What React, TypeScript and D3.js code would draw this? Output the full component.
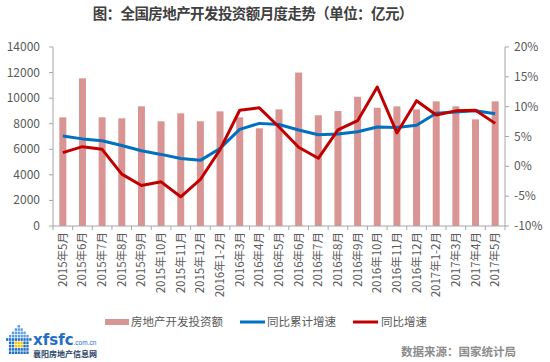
import React from "react";
import * as d3 from "d3";

const categories = [
  "2015年5月", "2015年6月", "2015年7月", "2015年8月", "2015年9月", "2015年10月",
  "2015年11月", "2015年12月", "2016年1-2月", "2016年3月", "2016年4月", "2016年5月",
  "2016年6月", "2016年7月", "2016年8月", "2016年9月", "2016年10月", "2016年11月",
  "2016年12月", "2017年1-2月", "2017年3月", "2017年4月", "2017年5月",
];
const investment = [
  8500, 11550, 8500, 8420, 9360, 8190, 8810, 8190, 8970, 8500, 7640, 9120,
  12000, 8660, 8990, 10110, 9250, 9360, 9120, 9750, 9360, 8340, 9750,
];
const cumulativeGrowth = [
  5.1, 4.6, 4.3, 3.5, 2.6, 2.0, 1.3, 1.0, 3.0, 6.2, 7.2, 7.0,
  6.1, 5.3, 5.4, 5.8, 6.6, 6.5, 6.9, 8.9, 9.1, 9.3, 8.8,
];
const monthlyGrowth = [
  2.3, 3.3, 2.85, -1.3, -3.2, -2.6, -5.1, -2.2, 2.8, 9.4, 9.8, 6.6,
  3.2, 1.35, 6.1, 7.65, 13.3, 5.6, 11.0, 8.6, 9.3, 9.4, 7.2,
];
const leftTicks = [0, 2000, 4000, 6000, 8000, 10000, 12000, 14000];
const rightTicks = [-10, -5, 0, 5, 10, 15, 20];
const title = "图：全国房地产开发投资额月度走势（单位：亿元）";

const FONT = "'Noto Sans CJK SC', 'Noto Sans', sans-serif";
const TXT = "#595959";
const AX = "#a6a6a6";

export default function App() {
  const W = 550, H = 362;
  const x0 = 53, x1 = 505, yTop = 47, yBot = 226;
  const x = d3.scaleBand<string>().domain(categories).range([x0, x1]).paddingInner(0).paddingOuter(0);
  const yL = d3.scaleLinear().domain([0, 14000]).range([yBot, yTop]);
  const yR = d3.scaleLinear().domain([-10, 20]).range([yBot, yTop]);
  const bw = 7;
  const cx = (c: string) => (x(c) as number) + x.bandwidth() / 2;
  const line = d3.line<number>().x((_, i) => cx(categories[i])).y((v) => yR(v));
  const titleChars = Array.from(title);
  const tx = d3.scaleLinear().domain([0, titleChars.length]).range([93, 413]);

  // logo pixel icon
  const iconCells: { cx: number; cy: number; c: string }[] = [];
  const rows = [
    [4],
    [3, 4, 5],
    [2, 3, 4, 5, 6],
    [1, 2, 3, 4, 5, 6, 7],
    [0, 1, 2, 3, 4, 5, 6, 7, 8],
    [1, 2, 3, 4, 5, 6, 7],
    [1, 2, 3, 4, 5, 6, 7],
    [1, 2, 3, 4, 5, 6, 7],
    [1, 2, 3, 4, 5, 6, 7],
  ];
  rows.forEach((r, ri) =>
    r.forEach((ci) => {
      const yellow = ri >= 5 && ri <= 6 && ci >= 3 && ci <= 5;
      iconCells.push({ cx: ci, cy: ri, c: yellow ? "#f5c400" : ri < 4 ? "#5aa0e0" : "#1f6fc8" });
    })
  );

  return (
    <div style={{ position: "absolute", left: 0, top: 0 }}>
      <svg width={W} height={H} style={{ display: "block", background: "#fff" }} fontFamily={FONT}>
        <defs>
          <clipPath id="xclip">
            <rect x={0} y={226} width={W} height={75} />
          </clipPath>
        </defs>
        <text y={19} fontSize={14.5} fontWeight="bold" fill="#404040">
          {titleChars.map((ch, i) => (
            <tspan key={i} x={tx(i + 0.5)} textAnchor="middle">{ch}</tspan>
          ))}
        </text>

        {/* bars */}
        {categories.map((c, i) => (
          <rect key={c} x={cx(c) - bw / 2} y={yL(investment[i])} width={bw}
            height={yBot - yL(investment[i])} fill="#d99594" />
        ))}

        {/* left axis */}
        <line x1={x0} x2={x0} y1={yTop} y2={yBot} stroke={AX} />
        {leftTicks.map((t) => (
          <g key={t}>
            <line x1={x0 - 4} x2={x0} y1={yL(t)} y2={yL(t)} stroke={AX} />
            <text x={40} y={yL(t) + 4} textAnchor="end" fontSize={12} fill={TXT}>{t}</text>
          </g>
        ))}
        {/* right axis */}
        <line x1={x1} x2={x1} y1={yTop} y2={yBot} stroke={AX} />
        {rightTicks.map((t) => (
          <g key={t}>
            <line x1={x1} x2={x1 + 4} y1={yR(t)} y2={yR(t)} stroke={AX} />
            <text x={514} y={yR(t) + 4} textAnchor="start" fontSize={12} fill={TXT}>{t}%</text>
          </g>
        ))}
        {/* x axis */}
        <line x1={x0} x2={x1} y1={yBot} y2={yBot} stroke={AX} />
        {categories.map((c) => (
          <line key={"t" + c} x1={x(c) as number} x2={x(c) as number} y1={yBot} y2={yBot + 4} stroke={AX} />
        ))}
        <line x1={x1} x2={x1} y1={yBot} y2={yBot + 4} stroke={AX} />
        <g clipPath="url(#xclip)">
          {categories.map((c) => (
            <text key={"l" + c} transform={`translate(${cx(c) + 4},232) rotate(-90)`}
              textAnchor="end" fontSize={11.5} fill={TXT}>{c}</text>
          ))}
        </g>

        {/* lines */}
        <path d={line(cumulativeGrowth) || ""} fill="none" stroke="#0070c0" strokeWidth={3} strokeLinejoin="round" />
        <path d={line(monthlyGrowth) || ""} fill="none" stroke="#c00000" strokeWidth={3} strokeLinejoin="round" />

        {/* legend */}
        <rect x={105} y={319} width={24} height={6} fill="#d99594" />
        <text x={131} y={326} fontSize={11.5} fill={TXT}>房地产开发投资额</text>
        <line x1={240} x2={265} y1={322} y2={322} stroke="#0070c0" strokeWidth={3} />
        <text x={267} y={326} fontSize={11.5} fill={TXT}>同比累计增速</text>
        <line x1={353} x2={378} y1={322} y2={322} stroke="#c00000" strokeWidth={3} />
        <text x={381} y={326} fontSize={11.5} fill={TXT}>同比增速</text>

        {/* logo */}
        <g transform="translate(6,325)">
          {iconCells.map((d, i) => (
            <rect key={i} x={d.cx * 2.9} y={d.cy * 3.3} width={2.3} height={2.6} fill={d.c} />
          ))}
        </g>
        <text x={33} y={345} fill="#1f6fc8" fontFamily="'DejaVu Sans', sans-serif">
          <tspan fontSize={15} fontWeight="bold">xfsfc</tspan>
          <tspan fontSize={6.5} fontFamily="'Liberation Sans', sans-serif">.com.cn</tspan>
        </text>
        <text x={33} y={357} fontSize={7.5} fontWeight="bold" fill="#2a3f66" textLength={64} lengthAdjust="spacingAndGlyphs">襄阳房地产信息网</text>

        <text x={516} y={356} textAnchor="end" fontSize={11.5} fontWeight="bold" fill="#8c8c8c">数据来源：国家统计局</text>
      </svg>
    </div>
  );
}
